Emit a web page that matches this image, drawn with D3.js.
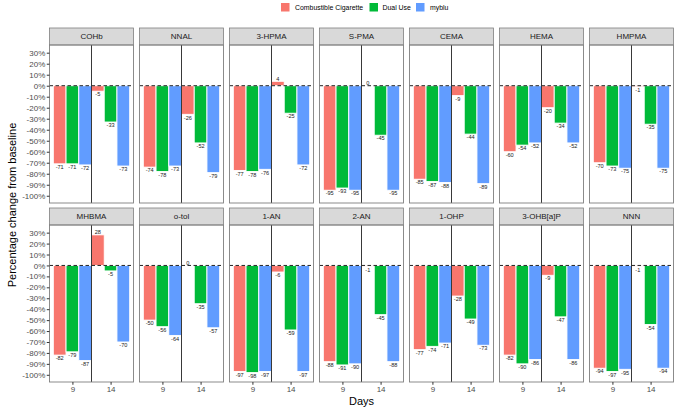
<!DOCTYPE html>
<html><head><meta charset="utf-8">
<script src="https://cdn.jsdelivr.net/npm/d3@7"></script>
<style>body{margin:0;background:#fff}svg{display:block;font-family:"Liberation Sans",Arial,sans-serif}</style>
</head><body><svg id="c" width="676" height="411"></svg>
<script>
const biomarkers = ["COHb","NNAL","3-HPMA","S-PMA","CEMA","HEMA","HMPMA",
                    "MHBMA","o-tol","1-AN","2-AN","1-OHP","3-OHB[a]P","NNN"];
const days = ["9","14"];
const groups = ["Combustible Cigarette","Dual Use","myblu"];
const colors = ["#F8766D","#00BA38","#619CFF"];
const combustible9  = [-71,-74,-77,-95,-85,-60,-70, -82,-50,-97,-88,-77,-82,-94];
const combustible14 = [-5,-26,4,0,-9,-20,-1, 28,0,-6,-1,-28,-9,-1];
const dual9  = [-71,-78,-78,-93,-87,-54,-73, -79,-56,-98,-91,-74,-90,-97];
const dual14 = [-33,-52,-25,-45,-44,-34,-35, -5,-35,-59,-45,-49,-47,-54];
const myblu9  = [-72,-73,-76,-95,-88,-52,-75, -87,-64,-97,-90,-71,-86,-95];
const myblu14 = [-73,-79,-72,-95,-89,-52,-75, -70,-57,-97,-88,-73,-86,-94];
const yTicks = [30,20,10,0,-10,-20,-30,-40,-50,-60,-70,-80,-90,-100];

const series = [[combustible9,combustible14],[dual9,dual14],[myblu9,myblu14]];

const svg = d3.select("#c");
const left0 = 49.5, panelW = 84, stepX = 90;
const rows = [{stripTop:28, top:45, bottom:203},{stripTop:208, top:225, bottom:382}];
const stripH = 17;
const ncol = 7;

// legend
const leg = svg.append("g");
const legItems = [{x:281, tx:295},{x:369.5, tx:382.5},{x:416, tx:430}];
groups.forEach((g,i)=>{
  leg.append("rect").attr("x",legItems[i].x).attr("y",3).attr("width",8.5).attr("height",8.5).attr("fill",colors[i]);
  leg.append("text").attr("x",legItems[i].tx).attr("y",7.5).attr("dy","0.35em")
    .attr("font-size",6.9).attr("fill","#000").text(g);
});

biomarkers.forEach((bm, bi)=>{
  const r = Math.floor(bi/ncol), c = bi % ncol;
  const row = rows[r];
  const px = left0 + c*stepX;
  const x = d3.scaleLinear().domain([0.4,2.6]).range([px, px+panelW]);
  const y = d3.scaleLinear().domain([-106.6,37]).range([row.bottom, row.top]);
  const g = svg.append("g");

  // strip
  g.append("rect").attr("x",px).attr("y",row.stripTop).attr("width",panelW).attr("height",stripH)
    .attr("fill","#d9d9d9").attr("stroke","#7f7f7f").attr("stroke-width",0.8);
  g.append("text").attr("x",px+panelW/2).attr("y",row.stripTop+stripH/2).attr("dy","0.35em")
    .attr("text-anchor","middle").attr("font-size",8).attr("fill","#1a1a1a").text(bm);

  // bars
  days.forEach((d,di)=>{
    groups.forEach((gr,gi)=>{
      const v = series[gi][di][bi];
      const x0 = x(di+1-0.5+gi/3), x1 = x(di+1-0.5+(gi+1)/3);
      const ya = y(Math.max(0,v)), yb = y(Math.min(0,v));
      if (v !== 0) {
        g.append("rect").attr("x",x0).attr("y",ya).attr("width",x1-x0).attr("height",yb-ya)
          .attr("fill",colors[gi]).attr("stroke","#fff").attr("stroke-width",0.9);
      }
      const t = g.append("text").attr("x",(x0+x1)/2).attr("text-anchor","middle")
        .attr("font-size",5.6).attr("fill","#222").text(v);
      if (v >= 0) t.attr("y",y(v)-0.8);
      else t.attr("y",y(v)+1).attr("dy","0.75em");
    });
  });

  // zero dashed line
  g.append("line").attr("x1",px).attr("x2",px+panelW).attr("y1",y(0)).attr("y2",y(0))
    .attr("stroke","#222").attr("stroke-width",1).attr("stroke-dasharray","3.5,2.5");
  // vertical separator
  g.append("line").attr("x1",x(1.5)).attr("x2",x(1.5)).attr("y1",row.top).attr("y2",row.bottom)
    .attr("stroke","#222").attr("stroke-width",0.9);
  // panel border
  g.append("rect").attr("x",px).attr("y",row.top).attr("width",panelW).attr("height",row.bottom-row.top)
    .attr("fill","none").attr("stroke","#7f7f7f").attr("stroke-width",0.9);

  // y axis
  if (c === 0) {
    const ax = d3.axisLeft(y).tickValues(yTicks).tickSize(2.75).tickPadding(1.5).tickFormat(d=>d+"%");
    const ag = g.append("g").attr("transform",`translate(${px},0)`).call(ax);
    ag.select(".domain").remove();
    ag.selectAll("line").attr("stroke","#333");
    ag.selectAll("text").attr("font-size",8).attr("fill","#4d4d4d").attr("font-family","Liberation Sans, Arial, sans-serif");
  }
  // x axis
  if (r === 1) {
    const ax = d3.axisBottom(x).tickValues([1,2]).tickSize(2.75).tickPadding(2).tickFormat((d,i)=>days[i]);
    const ag = g.append("g").attr("transform",`translate(0,${row.bottom})`).call(ax);
    ag.select(".domain").remove();
    ag.selectAll("line").attr("stroke","#333");
    ag.selectAll("text").attr("font-size",8).attr("fill","#4d4d4d").attr("font-family","Liberation Sans, Arial, sans-serif");
  }
});

// axis titles
svg.append("text").attr("transform","translate(12,205) rotate(-90)").attr("text-anchor","middle")
  .attr("dy","0.35em").attr("font-size",11).attr("fill","#000").text("Percentage change from baseline");
svg.append("text").attr("x",361.5).attr("y",401.5).attr("dy","0.35em").attr("text-anchor","middle")
  .attr("font-size",11).attr("fill","#000").text("Days");
</script></body></html>
